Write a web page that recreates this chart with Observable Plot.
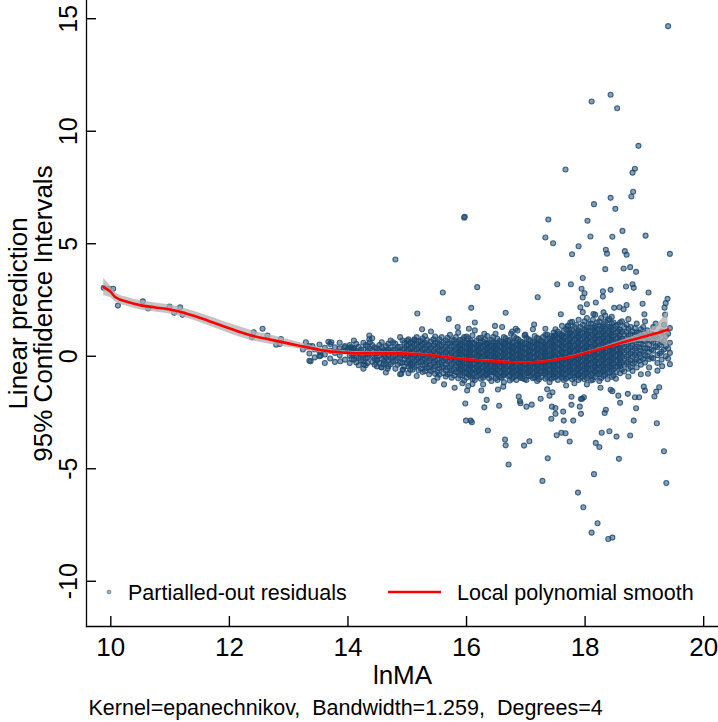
<!DOCTYPE html>
<html><head><meta charset="utf-8">
<script src="https://cdn.jsdelivr.net/npm/d3@7"></script>
<script src="https://cdn.jsdelivr.net/npm/@observablehq/plot@0.6"></script>
<style>html,body{margin:0;padding:0;background:#fff;} svg{display:block;}</style>
</head><body><div id="chart"></div><script>
// ---------- data ----------
const xTicks = [10, 12, 14, 16, 18, 20];
const yTicks = [-10, -5, 0, 5, 10, 15];
const xTitle = "lnMA";
const yTitle1 = "Linear prediction";
const yTitle2 = "95% Confidence Intervals";
const legendLabels = ["Partialled-out residuals", "Local polynomial smooth"];
const captionText = "Kernel=epanechnikov,  Bandwidth=1.259,  Degrees=4";

// local polynomial smooth and its 95% CI
const smoothX = [9.88, 10.0, 10.08, 10.3, 10.53, 10.75, 10.95, 11.2, 11.4, 11.63, 11.9, 12.19, 12.4, 12.64, 12.85, 13.03, 13.3, 13.6, 13.9, 14.16, 14.5, 14.89, 15.23, 15.5, 15.74, 16.0, 16.3, 16.58, 16.8, 17.03, 17.25, 17.43, 17.7, 17.99, 18.25, 18.55, 18.75, 18.95, 19.2, 19.4];
const smoothY = [3.07, 2.85, 2.62, 2.4, 2.25, 2.17, 2.1, 1.96, 1.8, 1.59, 1.33, 1.07, 0.9, 0.77, 0.65, 0.55, 0.4, 0.25, 0.17, 0.13, 0.13, 0.13, 0.08, 0.02, -0.07, -0.14, -0.2, -0.24, -0.27, -0.28, -0.25, -0.19, -0.06, 0.13, 0.32, 0.55, 0.7, 0.84, 1.02, 1.19];
const ciLow  = [2.69, 2.6, 2.42, 2.2, 2.05, 1.97, 1.9, 1.76, 1.6, 1.38, 1.11, 0.84, 0.68, 0.56, 0.46, 0.39, 0.27, 0.15, 0.08, 0.05, 0.06, 0.07, 0.03, -0.02, -0.11, -0.18, -0.24, -0.28, -0.31, -0.32, -0.29, -0.23, -0.1, 0.08, 0.26, 0.46, 0.57, 0.66, 0.66, 0.4];
const ciHigh = [3.45, 3.1, 2.82, 2.6, 2.45, 2.37, 2.3, 2.16, 2.0, 1.8, 1.55, 1.3, 1.12, 0.98, 0.84, 0.71, 0.53, 0.35, 0.26, 0.21, 0.2, 0.19, 0.13, 0.06, -0.03, -0.1, -0.16, -0.2, -0.23, -0.24, -0.21, -0.15, -0.02, 0.18, 0.38, 0.64, 0.83, 1.02, 1.38, 2.0];

// residuals: sparse left part
const leftX = [9.88, 9.97, 10.04, 10.12, 10.54, 10.63, 10.99, 11.07, 11.17, 11.21, 12.41, 12.56, 12.38, 12.64, 12.79, 12.87, 12.85, 13.29, 13.31, 13.24, 13.37, 13.4, 13.54, 13.54, 13.67, 13.72, 13.87, 13.86, 13.94, 13.99, 14.04, 14.09, 14.27, 14.36, 14.36, 14.49, 14.56, 14.6, 14.66, 14.67, 14.9, 14.93, 15.0, 15.05, 15.12];
const leftY = [3.04, 3.0, 3.0, 2.25, 2.44, 2.12, 2.21, 1.93, 2.18, 1.84, 1.07, 1.22, 0.84, 0.92, 0.51, 0.77, 0.55, 0.62, 0.4, 0.3, -0.22, 0.45, 0.03, 0.2, 0.64, 0.62, -0.22, 0.2, 0.4, 0.3, 0.4, 0.3, -0.37, 0.92, 0.75, -0.19, -0.49, -0.35, 0.2, -0.55, -0.78, -0.6, 0.7, -0.35, 0.72];

// residuals: points above the main cloud
const upX = [14.8, 19.4, 18.43, 18.11, 18.54, 18.9, 17.67, 18.84, 18.8, 18.81, 18.78, 18.43, 18.15, 18.51, 15.96, 15.97, 17.38, 18.04, 18.63, 17.33, 18.09, 18.46, 19.02, 17.46, 17.89, 18.35, 18.37, 18.67, 18.7, 19.43, 17.78, 18.34, 18.65, 18.76, 18.86, 17.96, 17.53, 17.76, 17.94, 17.99, 17.96, 18.43, 18.69, 18.8, 18.82, 19.07, 18.3, 18.3, 15.6, 16.18, 17.2, 15.17, 15.7, 16.08, 16.14, 16.66, 16.48, 17.59, 18.03, 18.18, 18.97, 19.0, 19.39, 19.36, 19.34, 19.35, 17.92, 17.96, 18.14, 16.3, 16.04, 17.14, 17.33, 18.34, 18.49, 18.58, 18.65, 18.7, 17.78, 17.73, 16.86, 16.99, 16.75, 16.83, 17.48, 17.71, 15.4, 15.25, 15.85, 16.6];
const upY = [4.3, 14.67, 11.62, 11.32, 11.02, 9.35, 8.3, 8.33, 8.16, 7.31, 7.1, 7.04, 6.76, 6.55, 6.16, 6.2, 6.08, 6.02, 5.57, 5.28, 5.32, 5.31, 5.36, 5.02, 4.89, 4.73, 4.56, 4.67, 4.51, 4.55, 4.53, 3.87, 3.9, 3.96, 3.75, 3.48, 3.2, 3.2, 3.0, 2.8, 2.61, 2.95, 3.1, 3.2, 3.04, 2.83, 2.89, 2.65, 2.83, 3.07, 2.62, 1.9, 1.66, 2.15, 1.5, 1.93, 1.35, 1.87, 2.31, 2.39, 2.33, 1.87, 2.55, 2.36, 2.16, 1.85, 2.18, 1.96, 1.88, 1.0, 1.22, 1.41, 1.22, 1.81, 2.15, 2.18, 2.09, 2.28, 1.53, 1.19, 1.14, 0.96, 1.0, 1.22, 0.92, 1.36, 1.1, 1.2, 1.3, 1.3];

// residuals: points below the main cloud
const lowX = [15.98, 15.99, 16.09, 16.07, 16.36, 16.3, 16.34, 16.55, 16.25, 16.65, 16.66, 16.71, 16.97, 17.06, 16.91, 17.01, 17.1, 17.25, 17.37, 17.28, 17.43, 17.5, 17.52, 17.6, 17.67, 17.64, 17.8, 17.74, 17.77, 17.93, 17.88, 17.97, 18.11, 18.21, 18.39, 18.46, 18.15, 18.18, 18.24, 18.28, 18.41, 18.53, 18.57, 18.33, 18.35, 18.76, 18.82, 18.86, 18.59, 18.72, 18.84, 18.91, 19.01, 19.17, 19.2, 19.25, 19.21, 19.33, 19.37, 19.3, 19.22, 19.06, 18.99, 18.56, 18.43, 18.46, 17.95, 17.98, 17.77, 17.63, 17.5, 17.44, 17.36, 17.4, 17.45, 16.53, 16.62, 16.01, 16.03, 15.96, 16.1, 16.88, 16.9, 17.91, 17.93, 18.26, 15.62, 15.8, 15.45];
const lowY = [-2.1, -2.86, -2.93, -2.86, -3.3, -2.27, -1.94, -2.2, -1.52, -3.7, -3.96, -4.81, -3.97, -3.78, -2.09, -2.24, -2.15, -1.89, -4.53, -5.54, -2.78, -2.56, -3.51, -3.4, -3.42, -2.86, -2.86, -3.79, -2.16, -2.56, -6.06, -6.71, -7.84, -7.42, -8.12, -8.06, -5.24, -3.85, -4.03, -3.4, -3.33, -3.57, -4.56, -2.52, -2.38, -3.52, -2.86, -2.31, -2.07, -1.67, -1.82, -1.82, -1.52, -1.79, -1.57, -1.38, -2.98, -4.22, -5.63, -0.44, -0.64, -0.78, -1.35, -1.75, -1.49, -1.55, -1.89, -1.82, -1.8, -2.46, -2.3, -2.24, -1.47, -1.75, -1.6, -1.48, -1.35, -1.52, -1.32, -1.08, -1.23, -1.79, -2.0, -2.24, -1.9, -1.4, -1.25, -1.4, -1.1];

// residuals: dense main cloud, one column of values per x position
const coreColX = [13.35, 13.44, 13.52, 13.61, 13.7, 13.78, 13.86, 13.95,
  14.03, 14.1, 14.18, 14.26, 14.33, 14.41, 14.49, 14.57, 14.64, 14.72, 14.8, 14.88, 14.95,
  15.02, 15.09, 15.16, 15.23, 15.3, 15.37, 15.44, 15.51, 15.58, 15.65, 15.72, 15.79,
  15.86, 15.93, 16.0, 16.07, 16.14, 16.21, 16.28, 16.35, 16.42, 16.49, 16.56, 16.63, 16.7, 16.77, 16.84, 16.91, 16.98, 17.05, 17.12, 17.19, 17.26, 17.33, 17.4, 17.47,
  17.54, 17.61, 17.68, 17.75, 17.82, 17.89, 17.96, 18.03, 18.1, 18.17, 18.24, 18.31, 18.38, 18.45, 18.52,
  18.59, 18.66, 18.73, 18.8, 18.87, 18.94, 19.01, 19.08, 19.15, 19.22, 19.29, 19.36, 19.43];
const coreColY = [
  [0.45, 0.12, -0.2], [0.3, -0.05], [0.52, 0.2, 0.0], [0.38, 0.08, -0.3], [0.55, 0.25, -0.1], [0.15, 0.4, -0.25], [0.35, 0.05, 0.6], [0.22, -0.15, 0.45],
  [0.5, 0.25, 0.02, -0.3], [0.7, 0.35, 0.1, -0.15], [0.42, 0.18, -0.08, -0.4], [0.6, 0.3, 0.05, -0.22, -0.55], [0.45, 0.2, -0.05, -0.3], [0.8, 0.5, 0.25, 0.0, -0.25], [0.35, 0.12, -0.15, -0.45], [0.62, 0.38, 0.15, -0.1, -0.5], [0.45, 0.2, -0.05, -0.3, -0.72], [0.7, 0.4, 0.18, -0.08, -0.35], [0.55, 0.3, 0.05, -0.2, -0.55], [0.85, 0.42, 0.2, -0.05, -0.3, -0.8], [0.6, 0.35, 0.1, -0.15, -0.45],
  [0.75, 0.5, 0.28, 0.05, -0.2, -0.45, -0.75], [0.62, 0.38, 0.15, -0.1, -0.35, -0.6], [0.85, 0.55, 0.3, 0.08, -0.15, -0.4, -0.88], [0.68, 0.45, 0.2, -0.02, -0.25, -0.55], [0.9, 0.6, 0.35, 0.12, -0.12, -0.38, -0.65], [0.5, 0.25, 0.02, -0.22, -0.5, -0.8], [0.75, 0.48, 0.22, -0.05, -0.3, -0.58], [0.62, 0.38, 0.12, -0.15, -0.4, -0.7, -0.95], [0.85, 0.5, 0.25, 0.0, -0.25, -0.5], [0.7, 0.42, 0.18, -0.08, -0.35, -0.62, -0.9], [0.95, 0.58, 0.3, 0.05, -0.2, -0.48, -0.75], [0.72, 0.45, 0.2, -0.05, -0.3, -0.58, -0.85],
  [1.05, 0.62, 0.4, 0.18, -0.05, -0.28, -0.5, -0.72, -0.98], [0.75, 0.5, 0.28, 0.05, -0.18, -0.4, -0.62, -0.85, -1.2], [0.88, 0.6, 0.38, 0.15, -0.08, -0.3, -0.52, -0.75, -0.95], [0.7, 0.45, 0.22, 0.0, -0.22, -0.45, -0.68, -0.9], [1.15, 0.58, 0.35, 0.12, -0.1, -0.32, -0.55, -0.78, -1.05], [0.8, 0.5, 0.28, 0.05, -0.18, -0.4, -0.62, -0.85], [0.65, 0.42, 0.2, -0.02, -0.25, -0.48, -0.7, -0.95, -1.25], [0.9, 0.55, 0.32, 0.1, -0.12, -0.35, -0.58, -0.8], [0.72, 0.48, 0.25, 0.02, -0.2, -0.42, -0.65, -0.9, -1.1], [1.0, 0.6, 0.36, 0.14, -0.08, -0.3, -0.52, -0.75, -0.98], [0.68, 0.45, 0.22, 0.0, -0.22, -0.45, -0.68, -0.92], [0.85, 0.56, 0.32, 0.1, -0.12, -0.35, -0.58, -0.82, -1.15], [0.7, 0.46, 0.24, 0.02, -0.2, -0.42, -0.65, -0.88], [1.1, 0.62, 0.38, 0.15, -0.08, -0.3, -0.52, -0.75, -1.0], [0.8, 0.52, 0.28, 0.05, -0.18, -0.4, -0.62, -0.85, -1.05], [0.66, 0.42, 0.2, -0.02, -0.25, -0.48, -0.7, -0.95], [0.92, 0.58, 0.35, 0.12, -0.1, -0.32, -0.55, -0.78, -1.02], [0.75, 0.5, 0.26, 0.03, -0.2, -0.42, -0.65, -0.88], [1.2, 0.64, 0.4, 0.17, -0.06, -0.28, -0.5, -0.74, -0.98], [0.82, 0.55, 0.3, 0.07, -0.16, -0.38, -0.6, -0.84, -1.1], [0.7, 0.46, 0.22, 0.0, -0.22, -0.45, -0.68, -0.92], [0.95, 0.62, 0.38, 0.14, -0.08, -0.3, -0.52, -0.76, -1.0], [0.8, 0.55, 0.3, 0.06, -0.16, -0.38, -0.6, -0.85, -1.15], [1.05, 0.7, 0.45, 0.2, -0.02, -0.25, -0.48, -0.7, -0.95],
  [1.1, 0.82, 0.58, 0.34, 0.1, -0.12, -0.35, -0.58, -0.8, -1.05], [1.35, 0.95, 0.7, 0.45, 0.2, -0.02, -0.25, -0.48, -0.7, -0.95], [1.2, 0.88, 0.62, 0.38, 0.14, -0.1, -0.32, -0.55, -0.78, -1.0, -1.3], [1.5, 1.05, 0.78, 0.52, 0.28, 0.05, -0.18, -0.4, -0.62, -0.88], [1.3, 0.98, 0.72, 0.46, 0.22, -0.02, -0.25, -0.48, -0.72, -0.95, -1.2], [1.62, 1.15, 0.88, 0.62, 0.38, 0.14, -0.1, -0.32, -0.55, -0.8, -1.05], [1.4, 1.05, 0.78, 0.52, 0.28, 0.04, -0.2, -0.42, -0.65, -0.9], [1.7, 1.28, 1.0, 0.74, 0.48, 0.24, 0.0, -0.24, -0.48, -0.72, -0.98, -1.25], [1.45, 1.15, 0.88, 0.62, 0.38, 0.14, -0.1, -0.34, -0.58, -0.82, -1.08], [1.85, 1.35, 1.05, 0.78, 0.52, 0.28, 0.04, -0.2, -0.44, -0.68, -0.92], [1.55, 1.22, 0.95, 0.68, 0.42, 0.18, -0.06, -0.3, -0.55, -0.8, -1.1], [1.95, 1.42, 1.12, 0.85, 0.6, 0.35, 0.1, -0.14, -0.38, -0.62, -0.88], [1.6, 1.3, 1.02, 0.76, 0.5, 0.25, 0.0, -0.25, -0.5, -0.76, -1.02], [1.75, 1.45, 1.15, 0.88, 0.62, 0.36, 0.12, -0.12, -0.38, -0.65, -0.92], [1.35, 1.05, 0.78, 0.52, 0.28, 0.04, -0.2, -0.46, -0.72, -1.0],
  [1.5, 1.18, 0.9, 0.62, 0.35, 0.1, -0.18, -0.45, -0.75], [1.3, 0.98, 0.7, 0.44, 0.18, -0.1, -0.38, -0.68], [1.65, 1.22, 0.92, 0.6, 0.32, 0.05, -0.25, -0.55, -0.9], [1.1, 0.8, 0.52, 0.25, -0.02, -0.32, -0.65], [1.45, 1.05, 0.72, 0.42, 0.15, -0.15, -0.5], [1.2, 0.88, 0.55, 0.25, -0.05, -0.38, -0.8], [1.55, 1.02, 0.68, 0.35, 0.05, -0.28], [0.85, 0.5, 0.2, -0.12, -0.5], [1.3, 0.95, 0.6, 0.25, -0.1], [0.75, 0.4, 0.05, -0.3], [1.1, 0.62, 0.2, -0.15], [0.9, 0.45, 0.0], [1.25, 0.6, 0.15, -0.35]
];

// residuals: second, interleaved set of columns in the main cloud
const core2ColX = [14.06, 14.14, 14.22, 14.3, 14.37, 14.45, 14.53, 14.61, 14.68, 14.76, 14.84, 14.92, 14.99,
  15.05, 15.12, 15.19, 15.26, 15.33, 15.4, 15.47, 15.54, 15.61, 15.68, 15.75, 15.82, 15.89, 15.96,
  16.03, 16.1, 16.17, 16.24, 16.31, 16.38, 16.45, 16.52, 16.59, 16.66, 16.73, 16.8, 16.87, 16.94,
  17.01, 17.08, 17.15, 17.22, 17.29, 17.36, 17.43, 17.5, 17.57, 17.64, 17.71, 17.78, 17.85, 17.92, 17.99,
  18.06, 18.13, 18.2, 18.27, 18.34, 18.41, 18.48, 18.55, 18.62, 18.7, 18.77, 18.84, 18.91, 18.98,
  19.05, 19.12, 19.19, 19.26, 19.33, 19.4];
const core2ColY = [
  [0.38, 0.12, -0.12], [0.55, 0.22, -0.02, -0.28], [0.3, 0.08, -0.18], [0.5, 0.12, -0.1, -0.4], [0.62, 0.32, 0.08], [0.4, 0.12, -0.12, -0.38], [0.5, 0.25, 0.02, -0.3], [0.28, 0.05, -0.2], [0.55, 0.3, 0.05, -0.18, -0.45], [0.62, 0.28, -0.02, -0.25], [0.42, 0.18, -0.08, -0.38], [0.7, 0.3, 0.05, -0.28, -0.6], [0.48, 0.22, -0.02, -0.3],
  [0.62, 0.38, 0.15, -0.08, -0.32, -0.6], [0.75, 0.5, 0.25, 0.02, -0.22, -0.48], [0.68, 0.42, 0.18, -0.05, -0.28, -0.62], [0.8, 0.55, 0.32, 0.08, -0.14, -0.4, -0.7], [0.72, 0.48, 0.22, -0.02, -0.26, -0.52], [0.65, 0.38, 0.12, -0.1, -0.38, -0.65], [0.88, 0.6, 0.35, 0.1, -0.18, -0.45, -0.78], [0.75, 0.5, 0.26, 0.02, -0.28, -0.55, -0.82], [0.6, 0.32, 0.08, -0.2, -0.48, -0.75], [0.82, 0.55, 0.3, 0.05, -0.22, -0.5, -0.8], [0.7, 0.45, 0.18, -0.08, -0.35, -0.62, -0.95], [0.85, 0.58, 0.32, 0.08, -0.18, -0.42, -0.7], [0.72, 0.5, 0.28, 0.06, -0.16, -0.38, -0.6, -0.85], [0.85, 0.62, 0.4, 0.16, -0.06, -0.3, -0.52, -0.75],
  [0.8, 0.55, 0.32, 0.1, -0.12, -0.35, -0.58, -0.82], [0.92, 0.6, 0.36, 0.12, -0.1, -0.34, -0.56, -0.8, -1.02], [0.7, 0.46, 0.24, 0.02, -0.2, -0.44, -0.66, -0.9], [0.82, 0.6, 0.38, 0.16, -0.06, -0.3, -0.52, -0.75, -1.0], [0.76, 0.52, 0.3, 0.08, -0.14, -0.38, -0.6, -0.84], [0.62, 0.4, 0.18, -0.04, -0.26, -0.5, -0.72, -0.98], [0.85, 0.6, 0.38, 0.16, -0.06, -0.28, -0.5, -0.72], [0.78, 0.55, 0.32, 0.1, -0.12, -0.35, -0.58, -0.82, -1.05], [0.62, 0.4, 0.18, -0.04, -0.26, -0.48, -0.72, -0.95], [0.8, 0.58, 0.36, 0.14, -0.08, -0.3, -0.52, -0.76], [0.72, 0.48, 0.26, 0.04, -0.18, -0.4, -0.62, -0.85, -1.08], [0.88, 0.62, 0.4, 0.18, -0.04, -0.26, -0.48, -0.7, -0.92], [0.75, 0.52, 0.3, 0.08, -0.14, -0.36, -0.58, -0.8], [0.62, 0.4, 0.18, -0.04, -0.26, -0.5, -0.72, -0.98],
  [0.82, 0.58, 0.36, 0.14, -0.08, -0.3, -0.52, -0.76, -1.05], [0.7, 0.46, 0.24, 0.02, -0.2, -0.42, -0.64, -0.88], [0.9, 0.62, 0.4, 0.18, -0.04, -0.26, -0.48, -0.7, -0.94], [0.78, 0.55, 0.32, 0.1, -0.12, -0.34, -0.56, -0.8, -1.02], [0.85, 0.6, 0.36, 0.14, -0.08, -0.3, -0.52, -0.75], [0.96, 0.7, 0.46, 0.22, -0.02, -0.24, -0.46, -0.7, -0.92], [0.9, 0.66, 0.42, 0.18, -0.04, -0.26, -0.48, -0.72, -1.0], [1.2, 0.92, 0.68, 0.44, 0.2, -0.02, -0.24, -0.46, -0.7, -0.92], [1.0, 0.76, 0.52, 0.28, 0.04, -0.18, -0.4, -0.62, -0.86], [1.12, 0.85, 0.6, 0.36, 0.12, -0.1, -0.32, -0.55, -0.8, -1.05], [1.32, 0.98, 0.72, 0.48, 0.24, 0.0, -0.22, -0.45, -0.68, -0.92], [1.2, 0.92, 0.66, 0.4, 0.16, -0.08, -0.3, -0.52, -0.76, -1.02], [1.4, 1.08, 0.82, 0.56, 0.32, 0.08, -0.14, -0.36, -0.6, -0.84], [1.3, 1.0, 0.74, 0.5, 0.26, 0.02, -0.22, -0.46, -0.7, -0.96], [1.55, 1.18, 0.9, 0.64, 0.4, 0.16, -0.08, -0.3, -0.54, -0.78, -1.02],
  [1.45, 1.12, 0.86, 0.6, 0.36, 0.12, -0.12, -0.36, -0.6, -0.86], [1.62, 1.25, 0.96, 0.7, 0.44, 0.2, -0.04, -0.28, -0.52, -0.78, -1.04], [1.5, 1.2, 0.92, 0.66, 0.4, 0.16, -0.08, -0.32, -0.56, -0.8], [1.7, 1.32, 1.05, 0.78, 0.52, 0.28, 0.04, -0.2, -0.46, -0.72, -0.98], [1.52, 1.22, 0.95, 0.68, 0.42, 0.18, -0.06, -0.3, -0.56, -0.82], [1.65, 1.32, 1.05, 0.78, 0.52, 0.28, 0.04, -0.2, -0.46, -0.72], [1.5, 1.2, 0.92, 0.66, 0.4, 0.16, -0.08, -0.32, -0.58, -0.85], [1.4, 1.1, 0.82, 0.55, 0.3, 0.06, -0.2, -0.48], [1.55, 1.08, 0.78, 0.5, 0.22, -0.04, -0.3, -0.6], [1.4, 1.08, 0.8, 0.52, 0.26, -0.02, -0.3], [1.3, 0.98, 0.68, 0.4, 0.12, -0.18, -0.48], [1.25, 0.95, 0.62, 0.34, 0.06, -0.26], [1.05, 0.72, 0.4, 0.1, -0.2], [1.3, 0.9, 0.52, 0.2, -0.12],
  [1.15, 0.75, 0.35, 0.0], [1.0, 0.68, 0.3, -0.05], [1.45, 0.85, 0.45], [0.95, 0.5, 0.12], [1.4, 0.7, 0.3], [1.0, 0.35, -0.1]
];

// residuals: third set filling the densest part of the cloud
const core3ColX = [15.9, 16.05, 16.2, 16.34, 16.48, 16.62, 16.76, 16.9, 17.04, 17.18, 17.32, 17.46, 17.6, 17.74, 17.88, 18.02, 18.16, 18.3, 18.44, 18.58];
const core3ColY = [
  [0.52, 0.3, 0.08, -0.15, -0.38, -0.6], [0.6, 0.36, 0.12, -0.12, -0.34, -0.58, -0.8], [0.5, 0.26, 0.04, -0.2, -0.42, -0.66], [0.58, 0.34, 0.1, -0.14, -0.36, -0.6, -0.82], [0.48, 0.24, 0.0, -0.24, -0.46, -0.7], [0.55, 0.3, 0.06, -0.16, -0.4, -0.62, -0.86], [0.45, 0.22, -0.02, -0.26, -0.48, -0.72], [0.52, 0.28, 0.04, -0.18, -0.42, -0.64, -0.88], [0.46, 0.22, -0.02, -0.26, -0.5, -0.74], [0.56, 0.32, 0.08, -0.16, -0.4, -0.62, -0.85], [0.5, 0.26, 0.02, -0.2, -0.44, -0.68], [0.82, 0.58, 0.34, 0.1, -0.12, -0.36, -0.6, -0.82], [0.9, 0.66, 0.42, 0.18, -0.06, -0.3, -0.54, -0.78], [1.0, 0.74, 0.5, 0.26, 0.02, -0.22, -0.46, -0.7], [1.1, 0.84, 0.6, 0.36, 0.12, -0.12, -0.36, -0.6, -0.84], [1.2, 0.94, 0.68, 0.44, 0.2, -0.04, -0.28, -0.52, -0.76], [1.28, 1.02, 0.76, 0.5, 0.26, 0.02, -0.22, -0.46, -0.7], [1.32, 1.06, 0.8, 0.54, 0.3, 0.06, -0.18, -0.42, -0.68], [1.28, 1.0, 0.74, 0.48, 0.24, 0.0, -0.24, -0.5], [1.2, 0.92, 0.66, 0.4, 0.14, -0.1, -0.36]
];

// ---------- build tables ----------
const FONT = "'Liberation Sans', Arial, Helvetica, sans-serif";
const NAVY = "#1a476f";
const residuals = [];
leftX.forEach((x, i) => residuals.push({x, y: leftY[i]}));
coreColX.forEach((x, i) => coreColY[i].forEach(y => residuals.push({x, y})));
core2ColX.forEach((x, i) => core2ColY[i].forEach(y => residuals.push({x, y})));
core3ColX.forEach((x, i) => core3ColY[i].forEach(y => residuals.push({x, y})));
upX.forEach((x, i) => residuals.push({x, y: upY[i]}));
lowX.forEach((x, i) => residuals.push({x, y: lowY[i]}));
const smooth = smoothX.map((x, i) => ({x, y: smoothY[i], lo: ciLow[i], hi: ciHigh[i]}));
const fmt = d => String(d);

const W = 718, H = 722, ML = 86, MB = 96, TICK = 10;
const XD = [9.59, 20.25], YD = [-12.01, 15.81];
// tick length expressed in data units so the ticks point inward by TICK pixels
const tickDX = TICK * (XD[1] - XD[0]) / (W - ML);
const tickDY = TICK * (YD[1] - YD[0]) / (H - MB);

const chart = Plot.plot({
  width: W, height: H,
  marginLeft: ML, marginRight: 0, marginTop: 0, marginBottom: MB,
  style: {fontFamily: FONT, background: "#fff", color: "#000"},
  x: {domain: XD},
  y: {domain: YD},
  marks: [
    Plot.dot(residuals, {x: "x", y: "y", r: 2.5, fill: NAVY, fillOpacity: 0.52, stroke: NAVY, strokeOpacity: 0.8, strokeWidth: 1.1}),
    Plot.areaY(smooth, {x: "x", y1: "lo", y2: "hi", fill: "#b0b0b0", fillOpacity: 0.75, curve: "monotone-x"}),
    Plot.line(smooth, {x: "x", y: "y", stroke: "#ff0000", strokeWidth: 2.6, curve: "monotone-x"}),
    Plot.frame({anchor: "left", strokeWidth: 1.3}),
    Plot.frame({anchor: "bottom", strokeWidth: 1.3}),
    // inward tick marks
    Plot.ruleY(yTicks, {y: d => d, x1: () => XD[0], x2: () => XD[0] + tickDX, stroke: "#000", strokeWidth: 1.4}),
    Plot.ruleX(xTicks, {x: d => d, y1: () => YD[0], y2: () => YD[0] + tickDY, stroke: "#000", strokeWidth: 1.4}),
    // tick labels
    Plot.axisY({ticks: yTicks, tickSize: 0, tickPadding: 10, tickRotate: -90, tickFormat: fmt, fontSize: 25, label: null}),
    Plot.axisX({ticks: xTicks, tickSize: 0, tickPadding: 11, tickFormat: fmt, fontSize: 26, label: null}),
    Plot.text([xTitle], {text: d => d, frameAnchor: "bottom", dy: 57, fontSize: 26}),
    Plot.text([yTitle1], {text: d => d, frameAnchor: "left", dx: -68, rotate: -90, textAnchor: "middle", lineAnchor: "middle", fontSize: 26}),
    Plot.text([yTitle2], {text: d => d, frameAnchor: "left", dx: -43, rotate: -90, textAnchor: "middle", lineAnchor: "middle", fontSize: 26}),
    Plot.text([captionText], {text: d => d, frameAnchor: "bottom-left", dx: 2, dy: 88, textAnchor: "start", fontSize: 21.5})
  ]
});

// legend (inside the plot region, at the bottom)
const svg = d3.select(chart);
const lg = svg.append("g").attr("font-family", FONT).attr("font-size", 21.5).attr("fill", "#000").attr("text-anchor", "start");
lg.append("circle").attr("cx", 109).attr("cy", 592).attr("r", 2)
  .attr("fill", NAVY).attr("fill-opacity", 0.42).attr("stroke", NAVY).attr("stroke-opacity", 0.45);
lg.append("text").attr("x", 128).attr("y", 592).attr("dy", "0.35em").text(legendLabels[0]);
lg.append("line").attr("x1", 388).attr("x2", 441).attr("y1", 592).attr("y2", 592)
  .attr("stroke", "#ff0000").attr("stroke-width", 2.6);
lg.append("text").attr("x", 457).attr("y", 592).attr("dy", "0.35em").text(legendLabels[1]);

document.getElementById("chart").appendChild(chart);
</script></body></html>
